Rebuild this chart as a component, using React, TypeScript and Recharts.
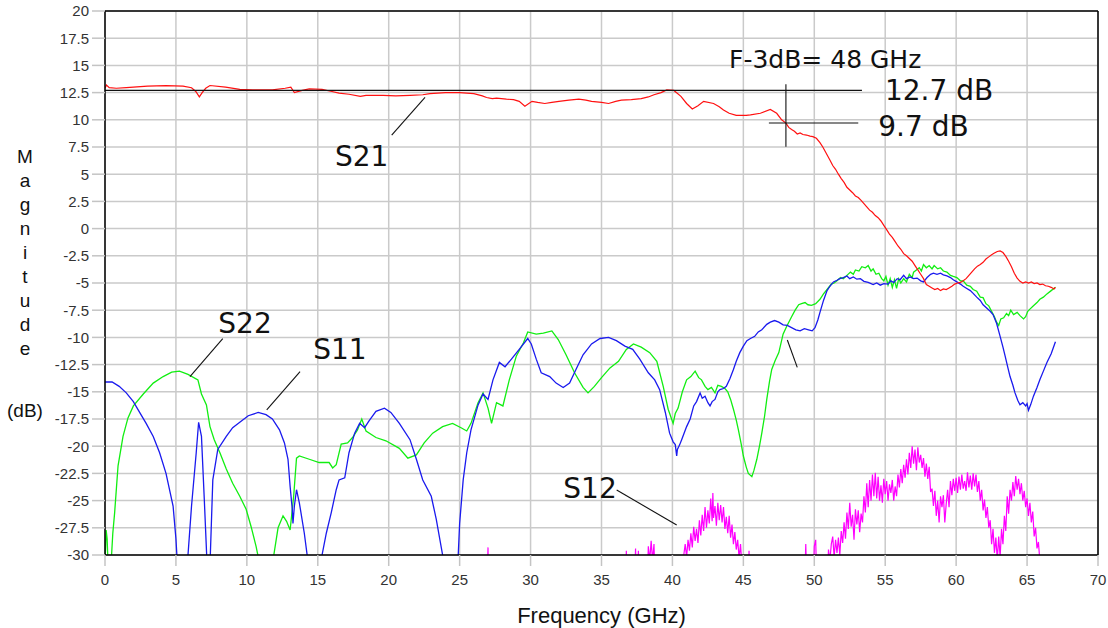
import React from 'react';
import {
  LineChart,
  Line,
  XAxis,
  YAxis,
  CartesianGrid,
  ReferenceLine,
  ReferenceDot,
  Label,
} from 'recharts';

// Measured S-parameter magnitudes, [frequency GHz, magnitude dB]
const S21: [number, number][] = [
  [0, 12.9], [0.1, 13.2], [0.3, 12.95], [0.8, 12.9], [1.5, 12.95], [2.0, 13.0], [3.0, 13.1], [4.3, 13.15],
  [5.5, 13.1], [6.1, 12.95], [6.4, 12.6], [6.65, 12.1], [6.85, 12.5], [7.1, 12.9], [7.4, 13.15], [8.5, 13.0],
  [9.5, 12.8], [10.4, 12.75], [11.8, 12.75], [12.7, 12.9], [13.1, 13.0], [13.35, 12.5], [13.9, 12.7],
  [14.4, 12.85], [15.3, 12.8], [16.0, 12.6], [16.5, 12.45], [17.2, 12.35], [18.0, 12.15], [18.4, 12.25],
  [19.6, 12.25], [20.5, 12.2], [21.5, 12.25], [22.4, 12.3], [22.9, 12.4], [24.0, 12.5], [25.0, 12.5],
  [26.0, 12.4], [26.6, 12.2], [26.9, 12.05], [27.3, 11.95], [27.6, 12.0], [28.3, 11.9], [28.8, 11.85],
  [29.2, 11.7], [29.6, 11.25], [30.1, 11.7], [30.5, 11.6], [31.0, 11.5], [31.5, 11.6], [32.0, 11.7],
  [32.7, 11.8], [33.4, 11.9], [33.9, 11.8], [34.3, 11.7], [35.0, 11.6], [35.5, 11.5], [36.0, 11.7],
  [36.4, 11.8], [37.1, 11.85], [37.8, 11.95], [38.3, 12.1], [38.7, 12.3], [39.2, 12.5], [39.6, 12.75],
  [40.1, 12.7], [40.6, 12.15], [41.0, 11.5], [41.4, 11.0], [41.8, 11.3], [42.2, 11.7], [42.9, 11.5],
  [43.3, 11.2], [43.6, 10.9], [44.0, 10.6], [44.5, 10.4], [45.2, 10.4], [45.5, 10.45], [46.2, 10.6],
  [46.9, 10.95], [47.35, 10.6], [47.7, 10.0], [48.0, 9.7], [48.2, 9.3], [48.4, 9.1], [48.6, 8.95],
  [48.8, 8.7], [49.0, 8.8], [49.2, 8.65], [49.45, 8.6], [49.7, 8.5], [49.9, 8.45], [50.15, 8.3],
  [50.4, 7.9], [50.6, 7.5], [50.85, 6.9], [51.1, 6.3], [51.3, 5.8], [51.5, 5.45], [51.7, 5.0], [51.9, 4.6],
  [52.1, 4.25], [52.3, 3.8], [52.5, 3.55], [52.7, 3.3], [52.9, 3.0], [53.1, 2.85], [53.3, 2.6], [53.5, 2.3],
  [53.7, 2.0], [53.9, 1.7], [54.1, 1.5], [54.3, 1.2], [54.5, 1.0], [54.7, 0.7], [54.9, 0.3], [55.1, -0.1],
  [55.3, -0.5], [55.5, -0.8], [55.7, -1.2], [55.9, -1.6], [56.1, -1.9], [56.3, -2.3], [56.5, -2.5],
  [56.7, -2.75], [56.9, -3.0], [57.1, -3.4], [57.3, -3.8], [57.5, -4.2], [57.7, -4.6], [57.9, -5.15],
  [58.1, -5.3], [58.3, -5.45], [58.5, -5.6], [58.7, -5.5], [58.9, -5.7], [59.1, -5.55], [59.3, -5.6],
  [59.5, -5.45], [59.7, -5.3], [59.9, -5.1], [60.1, -5.0], [60.3, -4.95], [60.5, -4.8], [60.7, -4.6],
  [60.9, -4.3], [61.1, -4.0], [61.3, -3.7], [61.5, -3.45], [61.7, -3.3], [61.9, -3.1], [62.1, -2.8],
  [62.3, -2.6], [62.5, -2.4], [62.7, -2.25], [62.9, -2.1], [63.1, -2.05], [63.3, -2.2], [63.5, -2.55],
  [63.7, -3.0], [63.9, -3.5], [64.1, -4.1], [64.3, -4.55], [64.5, -4.85], [64.7, -5.0], [64.9, -4.9],
  [65.1, -5.0], [65.3, -4.9], [65.5, -5.05], [65.7, -5.0], [65.9, -5.15], [66.1, -5.1], [66.3, -5.25],
  [66.5, -5.3], [66.7, -5.4], [66.9, -5.55], [67.0, -5.4],
];

const S11: [number, number][] = [
  [0, -14.1], [0.5, -14.1], [1.0, -14.5], [1.5, -15.1], [2.0, -15.9], [2.4, -16.8], [2.9, -17.9],
  [3.4, -19.1], [3.85, -20.6], [4.3, -22.5], [4.8, -25.5], [5.0, -28.5], [5.2, -33], [5.7, -33],
  [5.85, -30], [6.1, -25.5], [6.43, -20.6], [6.6, -17.8], [6.8, -19.1], [7.0, -24.9], [7.2, -31],
  [7.4, -31], [7.6, -23.1], [7.95, -20.3], [8.55, -19.1], [9.0, -18.3], [9.5, -17.8], [10.1, -17.2],
  [10.8, -16.9], [11.35, -17.1], [11.8, -17.5], [12.3, -18.5], [12.65, -19.7], [12.9, -21.2],
  [13.05, -23.7], [13.2, -25.8], [13.25, -27.1], [13.35, -25.5], [13.5, -24.0], [13.7, -25.2],
  [14.05, -28.0], [14.3, -30.5], [14.6, -33], [15.0, -33], [15.3, -30], [15.6, -28.0], [15.95, -26.1],
  [16.3, -24.0], [16.5, -23.1], [16.9, -22.9], [17.2, -20.6], [17.6, -18.8], [17.95, -17.9],
  [18.3, -18.3], [18.6, -17.7], [19.1, -16.8], [19.7, -16.5], [20.15, -16.9], [20.75, -17.9],
  [21.5, -19.4], [21.95, -21.2], [22.4, -23.1], [23.0, -24.6], [23.35, -26.7], [23.8, -30], [24.0, -33],
  [24.7, -33], [24.9, -30], [25.0, -27.1], [25.25, -23.1], [25.5, -20.6], [25.8, -18.5], [26.3, -16.2],
  [26.65, -15.2], [27.0, -15.7], [27.35, -13.9], [27.8, -12.3], [28.2, -12.7], [28.65, -12.0],
  [29.2, -11.1], [29.8, -10.1], [30.05, -10.6], [30.4, -12.0], [30.75, -13.25], [31.35, -13.6],
  [31.8, -14.2], [32.3, -14.6], [32.75, -14.2], [33.2, -12.95], [33.7, -11.6], [34.3, -10.6],
  [34.9, -10.1], [35.5, -10.0], [36.05, -10.3], [36.65, -10.8], [37.2, -11.1], [37.7, -12.0],
  [38.3, -13.25], [38.75, -13.9], [39.1, -14.8], [39.5, -16.9], [39.8, -18.8], [40.05, -19.6],
  [40.2, -19.85], [40.3, -20.9], [40.35, -20.3], [40.5, -19.9], [40.65, -19.4], [41.0, -18.2],
  [41.25, -17.5], [41.5, -16.3], [41.7, -15.9], [41.95, -15.1], [42.1, -15.6], [42.3, -15.4],
  [42.5, -16.0], [42.65, -16.3], [42.8, -15.9], [43.0, -15.7], [43.2, -15.0], [43.35, -14.8],
  [43.6, -14.7], [43.8, -14.5], [44.05, -13.8], [44.3, -12.95], [44.5, -12.2], [44.75, -11.4],
  [45.0, -10.8], [45.25, -10.3], [45.5, -10.1], [45.8, -9.9], [46.05, -9.5], [46.3, -9.3],
  [46.65, -8.8], [46.9, -8.6], [47.2, -8.45], [47.5, -8.6], [47.8, -8.85], [48.1, -8.9], [48.4, -9.1],
  [48.7, -9.3], [49.0, -9.4], [49.3, -9.2], [49.6, -9.3], [49.85, -9.4], [50.05, -9.1], [50.25, -8.4],
  [50.4, -7.7], [50.65, -6.6], [50.9, -5.7], [51.1, -5.3], [51.35, -4.9], [51.6, -4.75], [51.8, -4.6],
  [52.05, -4.5], [52.3, -4.35], [52.5, -4.6], [52.75, -4.45], [53.0, -4.65], [53.25, -4.6],
  [53.5, -4.85], [53.8, -4.95], [54.15, -5.15], [54.4, -5.0], [54.65, -5.2], [54.9, -5.05],
  [55.2, -5.1], [55.4, -4.8], [55.6, -4.95], [55.85, -4.6], [56.05, -4.7], [56.3, -4.3], [56.5, -4.6],
  [56.75, -4.45], [57.0, -4.6], [57.25, -4.55], [57.5, -4.8], [57.7, -4.9], [57.95, -4.5], [58.2, -4.2],
  [58.4, -4.1], [58.65, -4.2], [58.9, -4.1], [59.1, -4.25], [59.35, -4.35], [59.6, -4.5], [59.8, -4.7],
  [60.05, -4.9], [60.3, -5.1], [60.5, -5.3], [60.75, -5.5], [61.0, -5.7], [61.2, -5.95], [61.45, -6.3],
  [61.7, -6.6], [61.9, -7.0], [62.15, -7.3], [62.4, -7.6], [62.6, -7.9], [62.85, -8.7], [63.1, -9.9],
  [63.3, -10.9], [63.45, -11.7], [63.65, -12.8], [63.8, -13.6], [64.0, -14.4], [64.15, -15.1],
  [64.35, -15.8], [64.5, -16.2], [64.7, -16.0], [64.9, -16.3], [65.0, -16.1], [65.1, -16.7],
  [65.25, -16.2], [65.45, -15.4], [65.7, -14.6], [65.9, -13.9], [66.15, -13.1], [66.4, -12.3],
  [66.7, -11.5], [67.0, -10.4],
];

const S22: [number, number][] = [
  [0, -31], [0.08, -27.7], [0.15, -28.5], [0.22, -31], [0.42, -31], [0.55, -28], [0.68, -26.1],
  [0.92, -21.8], [1.27, -19.1], [1.62, -17.4], [2.0, -16.3], [2.7, -15.2], [3.4, -14.2], [4.1, -13.6],
  [4.7, -13.2], [5.25, -13.1], [5.85, -13.4], [6.55, -13.9], [6.8, -15.2], [7.15, -16.2], [7.4, -18.2],
  [7.7, -19.4], [8.1, -20.6], [8.55, -22.1], [9.0, -23.4], [9.5, -24.6], [9.95, -25.8], [10.3, -27.4],
  [10.65, -29.2], [10.85, -30.5], [11.0, -33], [11.7, -33], [11.9, -30], [12.2, -27.5], [12.55, -26.4],
  [12.8, -26.9], [13.05, -27.7], [13.3, -24.6], [13.5, -21.1], [13.7, -20.9], [14.4, -21.2],
  [15.1, -21.5], [15.8, -21.5], [16.05, -22.0], [16.3, -21.7], [16.65, -19.8], [17.1, -19.7],
  [17.45, -19.2], [17.8, -18.5], [18.1, -17.5], [18.4, -18.6], [19.1, -19.2], [19.8, -19.5],
  [20.75, -20.2], [21.35, -21.1], [21.95, -20.8], [22.5, -19.7], [23.1, -18.8], [23.8, -18.2],
  [24.5, -17.9], [25.1, -18.3], [25.5, -18.6], [25.8, -17.9], [26.3, -16.0], [26.65, -15.1],
  [27.0, -16.5], [27.25, -17.9], [27.6, -16.0], [28.05, -16.3], [28.5, -13.9], [29.0, -11.7],
  [29.5, -10.5], [29.8, -9.5], [30.4, -9.7], [30.9, -9.6], [31.5, -9.4], [31.95, -10.2], [32.5, -11.6],
  [33.1, -13.25], [33.7, -14.6], [34.05, -15.1], [34.5, -14.5], [35.0, -13.7], [35.6, -12.8],
  [36.2, -12.2], [36.75, -11.1], [37.25, -10.6], [37.8, -10.9], [38.4, -11.4], [38.9, -12.2],
  [39.35, -14.5], [39.7, -16.6], [40.05, -17.9], [40.2, -17.0], [40.4, -16.5], [40.7, -15.0],
  [41.0, -13.9], [41.3, -13.6], [41.6, -13.1], [41.85, -13.7], [42.05, -13.9], [42.3, -14.5],
  [42.5, -14.8], [42.75, -14.6], [43.0, -15.1], [43.2, -14.4], [43.45, -14.5], [43.7, -14.7],
  [43.9, -15.0], [44.1, -15.7], [44.3, -16.6], [44.5, -17.6], [44.65, -18.5], [44.85, -19.8],
  [45.0, -20.9], [45.2, -21.9], [45.35, -22.5], [45.6, -22.8], [45.75, -22.2], [45.95, -21.2],
  [46.15, -19.9], [46.3, -18.8], [46.5, -17.2], [46.65, -15.7], [46.85, -14.0], [47.0, -12.95],
  [47.25, -12.1], [47.5, -11.4], [47.8, -9.7], [48.05, -9.0], [48.4, -8.1], [48.65, -7.5],
  [48.9, -7.0], [49.1, -6.9], [49.35, -6.8], [49.55, -7.0], [49.8, -7.05], [50.1, -6.9], [50.4, -6.5],
  [50.65, -6.0], [50.9, -5.6], [51.2, -5.1], [51.4, -5.0], [51.6, -4.8], [51.85, -4.5], [52.05, -4.6],
  [52.3, -4.3], [52.55, -4.0], [52.75, -4.2], [52.9, -3.8], [53.15, -3.9], [53.35, -3.5], [53.6, -3.6],
  [53.8, -3.4], [54.0, -3.9], [54.15, -3.7], [54.35, -4.2], [54.55, -4.1], [54.75, -4.6], [54.9, -4.8],
  [55.05, -4.4], [55.2, -5.2], [55.35, -4.6], [55.5, -5.4], [55.65, -4.7], [55.8, -5.5], [55.95, -4.6],
  [56.1, -5.0], [56.3, -4.6], [56.5, -4.9], [56.7, -4.2], [56.9, -4.5], [57.0, -4.0], [57.2, -3.8],
  [57.4, -3.6], [57.55, -3.9], [57.7, -3.3], [57.9, -3.6], [58.1, -3.4], [58.3, -3.7], [58.45, -3.4],
  [58.7, -3.7], [58.9, -3.6], [59.1, -3.9], [59.35, -4.0], [59.6, -4.3], [59.8, -4.4], [60.05, -4.5],
  [60.3, -4.8], [60.5, -4.8], [60.75, -5.2], [61.0, -5.3], [61.2, -5.6], [61.45, -5.75], [61.7, -6.3],
  [61.9, -6.35], [62.1, -6.9], [62.3, -7.1], [62.5, -7.6], [62.7, -8.1], [62.85, -8.6], [63.0, -8.9],
  [63.15, -8.3], [63.35, -8.2], [63.55, -7.8], [63.7, -8.0], [63.85, -7.5], [64.05, -7.9], [64.3, -7.7],
  [64.5, -8.0], [64.75, -8.3], [64.9, -8.1], [65.05, -7.6], [65.2, -7.4], [65.45, -7.1], [65.7, -6.8],
  [65.9, -6.5], [66.15, -6.3], [66.4, -6.0], [66.7, -5.7], [67.0, -5.4],
];

// S12 sits mostly below the -30 dB floor; the samples at -34 stay clipped off the plot
const S12: [number, number][] = [
  [0, -34], [26.9, -34], [27.0, -29.3], [27.05, -34], [36.7, -34], [36.75, -29.6], [36.8, -34],
  [37.3, -34], [37.4, -29.4], [37.5, -34], [37.6, -29.6], [37.7, -34], [38.2, -34], [38.3, -29.2],
  [38.4, -30.5], [38.5, -28.7], [38.6, -30.5], [38.7, -29.0], [38.8, -34],
  [40.7, -34], [40.8, -30], [40.9, -29.0], [41.0, -30.2], [41.1, -28.6], [41.2, -29.6], [41.3, -28.0],
  [41.4, -29.3], [41.5, -27.4], [41.6, -28.7], [41.7, -27.6], [41.8, -28.9], [41.9, -26.8], [42.0, -28.2],
  [42.1, -26.3], [42.2, -27.8], [42.3, -25.6], [42.4, -27.5], [42.5, -25.9], [42.6, -27.1], [42.7, -24.8],
  [42.8, -26.9], [42.85, -24.3], [42.9, -26.6], [43.0, -25.5], [43.1, -27.3], [43.2, -25.2], [43.3, -26.8],
  [43.4, -25.4], [43.5, -27.0], [43.6, -25.6], [43.7, -27.6], [43.8, -26.5], [43.9, -28.0], [44.0, -26.4],
  [44.1, -28.4], [44.2, -27.2], [44.3, -29.0], [44.4, -27.9], [44.5, -29.5], [44.6, -28.6], [44.7, -30.3],
  [44.8, -29.0], [44.9, -31], [45.0, -34], [45.35, -34], [45.4, -29.6], [45.45, -34],
  [49.3, -34], [49.4, -29.0], [49.5, -34], [49.9, -34], [50.0, -29.2], [50.1, -28.6], [50.2, -34],
  [50.9, -34], [51.0, -29.5], [51.1, -30.5], [51.2, -29.0], [51.3, -28.3], [51.4, -30.2], [51.5, -28.6],
  [51.6, -29.8], [51.7, -28.4], [51.8, -30.0], [51.9, -27.8], [52.0, -28.9], [52.1, -27.0], [52.2, -28.5],
  [52.3, -26.1], [52.4, -27.6], [52.5, -25.2], [52.6, -27.4], [52.7, -26.3], [52.8, -28.6], [52.9, -25.8],
  [53.0, -27.2], [53.1, -25.9], [53.2, -27.9], [53.3, -26.2], [53.4, -27.0], [53.5, -24.6], [53.6, -26.1],
  [53.7, -23.4], [53.8, -25.6], [53.9, -23.1], [54.0, -25.0], [54.1, -22.6], [54.2, -24.6], [54.3, -22.45],
  [54.4, -24.8], [54.5, -22.8], [54.6, -25.0], [54.7, -23.6], [54.8, -25.2], [54.9, -23.0], [55.0, -24.4],
  [55.1, -23.2], [55.2, -25.0], [55.3, -23.5], [55.4, -24.3], [55.5, -23.1], [55.6, -25.0], [55.7, -23.7],
  [55.8, -24.6], [55.9, -22.6], [56.0, -23.8], [56.1, -22.1], [56.2, -23.4], [56.3, -21.7], [56.4, -22.9],
  [56.5, -21.2], [56.6, -22.6], [56.7, -20.6], [56.8, -22.0], [56.9, -20.0], [57.0, -21.6], [57.1, -20.3],
  [57.2, -22.2], [57.3, -20.1], [57.4, -21.5], [57.5, -20.8], [57.6, -22.0], [57.7, -21.1], [57.8, -22.8],
  [57.9, -21.6], [58.0, -23.0], [58.1, -21.9], [58.2, -24.2], [58.3, -23.9], [58.4, -25.5], [58.5, -24.1],
  [58.6, -26.4], [58.7, -25.0], [58.8, -27.0], [58.9, -24.6], [59.0, -25.6], [59.1, -24.5], [59.2, -27.0],
  [59.3, -25.3], [59.4, -24.0], [59.5, -25.6], [59.6, -23.2], [59.7, -24.5], [59.8, -23.0], [59.9, -24.1],
  [60.0, -22.9], [60.1, -24.3], [60.2, -22.8], [60.3, -24.0], [60.4, -22.6], [60.5, -23.9], [60.6, -23.2],
  [60.7, -24.1], [60.8, -22.4], [60.9, -23.8], [61.0, -22.7], [61.1, -24.0], [61.2, -22.5], [61.3, -23.7],
  [61.4, -22.6], [61.5, -24.2], [61.6, -23.2], [61.7, -25.0], [61.8, -24.0], [61.9, -25.9], [62.0, -24.9],
  [62.1, -26.6], [62.2, -25.6], [62.3, -27.5], [62.4, -26.8], [62.5, -29.0], [62.6, -27.6], [62.7, -29.8],
  [62.8, -28.4], [62.9, -30.5], [63.0, -28.3], [63.1, -30.2], [63.2, -27.6], [63.3, -29.0], [63.4, -26.4],
  [63.5, -27.8], [63.6, -24.6], [63.7, -26.2], [63.8, -24.0], [63.9, -25.0], [64.0, -23.3], [64.1, -24.6],
  [64.2, -22.75], [64.3, -24.0], [64.4, -23.0], [64.5, -24.4], [64.6, -23.4], [64.7, -25.0], [64.8, -24.1],
  [64.9, -25.6], [65.0, -24.8], [65.1, -26.4], [65.2, -25.2], [65.3, -27.0], [65.4, -26.0], [65.5, -28.3],
  [65.6, -27.5], [65.7, -29.4], [65.8, -28.8], [65.9, -30.5], [66.0, -34], [67.0, -34],
];

const X_TICKS = [0, 5, 10, 15, 20, 25, 30, 35, 40, 45, 50, 55, 60, 65, 70];
const Y_TICKS = [-30, -27.5, -25, -22.5, -20, -17.5, -15, -12.5, -10, -7.5, -5, -2.5, 0, 2.5, 5, 7.5, 10, 12.5, 15, 17.5, 20];

// -3 dB bandwidth marker values
const F3DB_GHZ = 48;
const GAIN_DB = 12.7;
const GAIN_3DB = 9.7;

const toPoints = (pairs: [number, number][]) => pairs.map(([f, v]) => ({ f, v }));

const AXIS_FONT = "'Liberation Sans', Arial, sans-serif";
const NOTE_FONT = "'DejaVu Sans', Verdana, sans-serif";

type Note = { text: string; f: number; v: number; size: number };
const NOTES: Note[] = [
  { text: 'S21', f: 16.21, v: 5.75, size: 28 },
  { text: 'S22', f: 7.99, v: -9.57, size: 28 },
  { text: 'S11', f: 14.68, v: -11.99, size: 28 },
  { text: 'S12', f: 32.31, v: -24.79, size: 28 },
  { text: `F-3dB= ${F3DB_GHZ} GHz`, f: 43.99, v: 14.73, size: 25 },
  { text: `${GAIN_DB} dB`, f: 54.98, v: 11.82, size: 28 },
  { text: `${GAIN_3DB} dB`, f: 54.51, v: 8.54, size: 28 },
];

type Seg = [{ x: number; y: number }, { x: number; y: number }];
const LEADERS: Seg[] = [
  [{ x: 20.21, y: 8.6 }, { x: 22.56, y: 12.07 }],
  [{ x: 8.3, y: -10.12 }, { x: 5.99, y: -13.61 }],
  [{ x: 13.75, y: -13.15 }, { x: 11.4, y: -16.67 }],
  [{ x: 36.07, y: -24.03 }, { x: 40.3, y: -27.24 }],
  [{ x: 48.1, y: -10.24 }, { x: 48.8, y: -12.75 }],
  [{ x: 0, y: GAIN_DB }, { x: 53.36, y: GAIN_DB }],
  [{ x: 46.8, y: GAIN_3DB }, { x: 53.1, y: GAIN_3DB }],
  [{ x: F3DB_GHZ, y: 13.26 }, { x: F3DB_GHZ, y: 7.53 }],
];

const Y_TITLE = ['M', 'a', 'g', 'n', 'i', 't', 'u', 'd', 'e'];

const YTitle = (props: any) => {
  const vb = props.viewBox || { x: 0, y: 11 };
  const top = (vb.y ?? 11) - 11;
  return (
    <g>
      {Y_TITLE.map((ch, i) => (
        <text key={i} x={25} y={top + 162.7 + i * 24.04} textAnchor="middle" fontSize={19} fontFamily={AXIS_FONT} fill="#111">
          {ch}
        </text>
      ))}
      <text x={25} y={top + 417} textAnchor="middle" fontSize={19} fontFamily={AXIS_FONT} fill="#111">
        (dB)
      </text>
    </g>
  );
};

const XTitle = (props: any) => {
  const vb = props.viewBox || { x: 105, y: 555, width: 993 };
  return (
    <text x={vb.x + vb.width / 2} y={vb.y + 68} textAnchor="middle" fontSize={22} fontFamily={AXIS_FONT} fill="#111">
      Frequency (GHz)
    </text>
  );
};

export default function App() {
  const s21 = toPoints(S21);
  const s11 = toPoints(S11);
  const s22 = toPoints(S22);
  const s12 = toPoints(S12);
  const tickStyle = { fill: '#333', fontSize: 15, fontFamily: AXIS_FONT };

  return (
    <div style={{ position: 'absolute', left: 0, top: 0, width: 1108, height: 628, background: '#fff' }}>
      <LineChart width={1108} height={628} margin={{ top: 11, right: 10, bottom: 0, left: 0 }}>
        <CartesianGrid stroke="#cacaca" strokeWidth={1.5} />
        <XAxis
          type="number"
          dataKey="f"
          domain={[0, 70]}
          ticks={X_TICKS}
          allowDataOverflow
          height={73}
          tickSize={11}
          tickMargin={8}
          axisLine={{ stroke: '#000', strokeWidth: 1.5 }}
          tickLine={{ stroke: '#c4c4c4', strokeWidth: 1.5 }}
          tick={tickStyle}
        >
          <Label content={XTitle} />
        </XAxis>
        <YAxis
          type="number"
          dataKey="v"
          domain={[-30, 20]}
          ticks={Y_TICKS}
          allowDataOverflow
          width={105}
          tickSize={13}
          tickMargin={3}
          axisLine={{ stroke: '#000', strokeWidth: 1.5 }}
          tickLine={{ stroke: '#c4c4c4', strokeWidth: 1.5 }}
          tick={tickStyle}
        >
          <Label content={YTitle} />
        </YAxis>
        <ReferenceLine y={20} stroke="#000" strokeWidth={1.5} />
        <ReferenceLine x={70} stroke="#000" strokeWidth={1.5} />

        <Line data={s12} dataKey="v" stroke="#ff00ff" strokeWidth={1.2} dot={false} activeDot={false} isAnimationActive={false} />
        <Line data={s22} dataKey="v" stroke="#11ee11" strokeWidth={1.3} dot={false} activeDot={false} isAnimationActive={false} />
        <Line data={s11} dataKey="v" stroke="#1a1aee" strokeWidth={1.3} dot={false} activeDot={false} isAnimationActive={false} />
        <Line data={s21} dataKey="v" stroke="#ff1010" strokeWidth={1.2} dot={false} activeDot={false} isAnimationActive={false} />

        {LEADERS.map((seg, i) => (
          <ReferenceLine key={`l${i}`} segment={seg} stroke="#111" strokeWidth={1.1} />
        ))}
        {NOTES.map((n, i) => (
          <ReferenceDot
            key={`n${i}`}
            x={n.f}
            y={n.v}
            r={1}
            shape={(p: any) => (
              <text x={p.cx} y={p.cy} fontSize={n.size} fontFamily={NOTE_FONT} fill="#111">
                {n.text}
              </text>
            )}
          />
        ))}
      </LineChart>
    </div>
  );
}
